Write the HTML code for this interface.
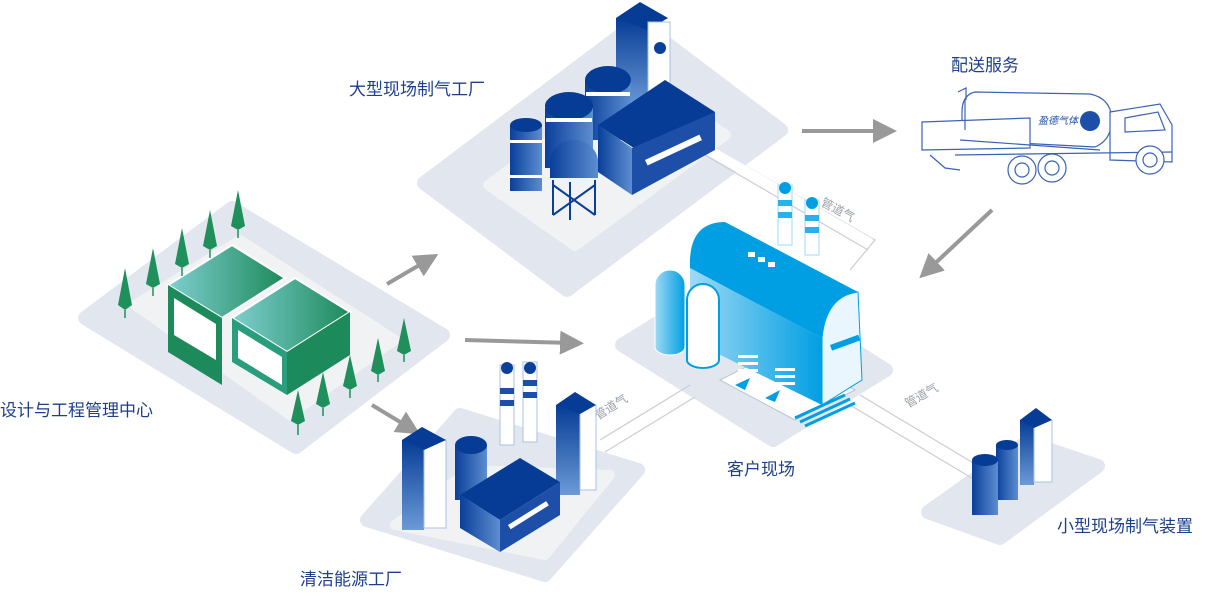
<!DOCTYPE html>
<html><head><meta charset="utf-8"><style>
html,body{margin:0;padding:0;background:#fff;width:1214px;height:600px;overflow:hidden}
svg{display:block}
.lbl{font-family:"Liberation Sans","Noto Sans CJK SC",sans-serif;font-size:17px;fill:#1d3f8c}
.pg{font-family:"Liberation Sans","Noto Sans CJK SC",sans-serif;font-size:12px;fill:#9aa0aa}
</style></head><body>
<svg width="1214" height="600" viewBox="0 0 1214 600" xmlns="http://www.w3.org/2000/svg">
<defs>
<linearGradient id="bl" x1="0" x2="1"><stop offset="0" stop-color="#0a3f9a"/><stop offset="1" stop-color="#5d8ed0"/></linearGradient>
<linearGradient id="bv" x1="0" y1="0" x2="0" y2="1"><stop offset="0" stop-color="#063c96"/><stop offset="1" stop-color="#6b9ad6"/></linearGradient>
<linearGradient id="gr" x1="0" x2="1"><stop offset="0" stop-color="#7fcfd0"/><stop offset="1" stop-color="#1c8a5a"/></linearGradient>
<linearGradient id="cy" x1="0" x2="1"><stop offset="0" stop-color="#9fd9f5"/><stop offset="1" stop-color="#009fe3"/></linearGradient>
<marker id="ah" markerWidth="6" markerHeight="6" refX="3" refY="3" orient="auto"><path d="M0,0 L6,3 L0,6 z" fill="#999"/></marker>
</defs>
<g fill="#e2e7ef" stroke="#e2e7ef" stroke-width="14" stroke-linejoin="round">
<polygon points="424,183 638,22 781,130 567,290"/>
<polygon points="85,318 232,208 443,335 296,447"/>
<polygon points="622,345 735,275 886,370 773,440"/>
<polygon points="367,520 460,415 638,470 545,575"/>
<polygon points="928,512 1027,442 1098,466 1000,538"/>
</g>
<g fill="#f1f2f3" stroke="#f1f2f3" stroke-width="10" stroke-linejoin="round">
<polygon points="488,185 639,74 726,135 575,246"/>
<polygon points="135,305 240,240 395,340 290,415"/>
<polygon points="395,525 470,470 610,475 545,555"/>
</g>
<g stroke="#c9ced6" stroke-width="1.2" fill="none">
<path d="M700,140 L875,240 L850,270"/><path d="M705,155 L868,250"/>
<path d="M600,440 L690,385"/><path d="M605,452 L695,397"/>
<path d="M860,395 L985,470"/><path d="M850,405 L975,480"/>
</g>
<path d="M700,145 L870,243" stroke="#fff" stroke-width="10"/>
<text class="pg" transform="translate(820,205) rotate(28)">管道气</text>
<text class="pg" transform="translate(598,420) rotate(-32)">管道气</text>
<text class="pg" transform="translate(908,408) rotate(-30)">管道气</text>
<g stroke="#999" stroke-width="4" marker-end="url(#ah)">
<line x1="802" y1="131" x2="885" y2="131"/>
<line x1="387" y1="284" x2="428" y2="260"/>
<line x1="465" y1="340" x2="572" y2="343"/>
<line x1="372" y1="405" x2="410" y2="428"/>
<line x1="992" y1="210" x2="928" y2="270"/>
</g>
<!-- top factory -->
<rect x="616" y="18" width="32" height="90" fill="url(#bv)"/><polygon points="616,18 640,2 668,18 648,30" fill="#063c96"/>
<rect x="648" y="22" width="22" height="86" fill="#fff" stroke="#a9c0e6"/>
<circle cx="660" cy="48" r="6" fill="#0a3f9a"/>
<rect x="585" y="80" width="46" height="60" fill="url(#bl)"/><ellipse cx="608" cy="80" rx="23" ry="14" fill="#063c96"/>
<rect x="545" y="108" width="48" height="60" fill="url(#bl)"/><ellipse cx="569" cy="106" rx="24" ry="14" fill="#063c96"/>
<rect x="546" y="118" width="46" height="4" fill="#fff"/><rect x="586" y="92" width="44" height="4" fill="#fff"/>
<rect x="510" y="125" width="32" height="66" fill="url(#bl)"/><ellipse cx="526" cy="125" rx="16" ry="7" fill="#063c96"/>
<rect x="510" y="140" width="32" height="3" fill="#fff"/><rect x="510" y="175" width="32" height="3" fill="#fff"/>
<path d="M550,162 a24,22 0 0 1 48,0 v16 h-48z" fill="url(#bl)"/>
<g stroke="#0a3f9a" stroke-width="2"><line x1="553" y1="180" x2="553" y2="215"/><line x1="595" y1="180" x2="595" y2="215"/><line x1="570" y1="182" x2="570" y2="220"/><line x1="553" y1="185" x2="595" y2="215"/><line x1="595" y1="185" x2="553" y2="215"/></g>
<polygon points="598,125 665,80 715,112 648,157" fill="#063c96"/>
<polygon points="598,125 632,148 632,195 598,172" fill="url(#bl)"/>
<polygon points="632,148 715,112 715,150 632,195" fill="#1d4fa8"/>
<rect x="645" y="160" width="60" height="6" fill="#fff" transform="rotate(-25 645 160)"/>
<!-- design center -->
<polygon points="168,285 232,245 285,278 222,318" fill="url(#gr)" stroke="#fff" stroke-width="2"/>
<polygon points="168,285 222,318 222,385 168,352" fill="#1c8a5a"/>
<polygon points="232,318 295,278 350,312 287,352" fill="url(#gr)" stroke="#fff" stroke-width="2"/>
<polygon points="232,318 287,352 287,395 232,362" fill="#2a9d7c"/>
<polygon points="287,352 350,312 350,355 287,395" fill="#1c8a5a"/>
<polygon points="238,330 282,357 282,385 238,358" fill="#fff"/>
<polygon points="174,298 216,324 216,360 174,335" fill="#fff"/>
<g fill="#1f8f5c">
<polygon points="125,310 118,305 125,268 132,305"/><polygon points="153,288 146,284 153,248 160,284"/>
<polygon points="182,268 175,264 182,228 189,264"/><polygon points="210,250 203,246 210,210 217,246"/>
<polygon points="238,230 231,226 238,190 245,226"/><polygon points="404,355 397,351 404,318 411,351"/>
<polygon points="378,375 371,371 378,338 385,371"/><polygon points="350,390 343,386 350,355 357,386"/>
<polygon points="323,408 316,404 323,372 330,404"/><polygon points="298,425 291,421 298,390 305,421"/>
</g>
<g stroke="#1f8f5c" stroke-width="1.5"><line x1="125" y1="310" x2="125" y2="318"/><line x1="153" y1="288" x2="153" y2="296"/><line x1="182" y1="268" x2="182" y2="276"/><line x1="210" y1="250" x2="210" y2="258"/><line x1="238" y1="230" x2="238" y2="238"/><line x1="404" y1="355" x2="404" y2="362"/><line x1="378" y1="375" x2="378" y2="382"/><line x1="350" y1="390" x2="350" y2="398"/><line x1="323" y1="408" x2="323" y2="416"/><line x1="298" y1="425" x2="298" y2="435"/></g>
<!-- customer site -->
<polygon points="720,380 795,420 855,390 780,350" fill="#fff" stroke="#b8c4d4"/>
<rect x="778" y="185" width="14" height="60" fill="#fff" stroke="#9fd9f5"/><circle cx="785" cy="188" r="6" fill="#009fe3"/>
<rect x="805" y="200" width="14" height="55" fill="#fff" stroke="#9fd9f5"/><circle cx="812" cy="203" r="6" fill="#009fe3"/>
<g fill="#2ab0ea"><rect x="778" y="200" width="14" height="6"/><rect x="778" y="212" width="14" height="6"/><rect x="805" y="215" width="14" height="6"/><rect x="805" y="227" width="14" height="6"/></g>
<polygon points="690,268 822,338 822,405 690,340" fill="url(#cy)"/>
<path d="M690,268 Q688,222 725,222 L858,292 Q826,296 822,338 z" fill="#009fe3"/>
<path d="M822,338 Q826,296 858,292 L862,380 L822,405 z" fill="#eaf6fd" stroke="#009fe3"/>
<rect x="830" y="345" width="30" height="6" fill="#009fe3" transform="rotate(-20 830 345)"/>
<g fill="#fff"><rect x="738" y="355" width="20" height="3"/><rect x="738" y="362" width="20" height="3"/><rect x="738" y="369" width="20" height="3"/><rect x="775" y="368" width="20" height="3"/><rect x="775" y="375" width="20" height="3"/><rect x="775" y="382" width="20" height="3"/></g>
<g fill="#fff"><rect x="748" y="252" width="7" height="5"/><rect x="758" y="257" width="7" height="5"/><rect x="768" y="262" width="7" height="5"/></g>
<path d="M655,285 a15,15 0 0 1 30,0 v62 a15,8 0 0 1 -30,0z" fill="url(#cy)" stroke="#fff"/>
<path d="M687,300 a16,16 0 0 1 32,0 v60 a16,8 0 0 1 -32,0z" fill="#fff" stroke="#009fe3" stroke-width="2"/>
<g fill="#009fe3"><polygon points="735,385 750,378 745,390"/><polygon points="765,398 780,390 775,402"/></g>
<g stroke="#009fe3" stroke-width="3"><line x1="795" y1="418" x2="845" y2="395"/><line x1="800" y1="422" x2="850" y2="399"/><line x1="805" y1="426" x2="855" y2="403"/></g>
<!-- clean energy -->
<rect x="500" y="365" width="14" height="80" fill="#fff" stroke="#a9c0e6"/><circle cx="507" cy="368" r="6" fill="#0a3f9a"/>
<rect x="523" y="362" width="14" height="80" fill="#fff" stroke="#a9c0e6"/><circle cx="530" cy="368" r="6" fill="#0a3f9a"/>
<g fill="#1d4fa8"><rect x="500" y="388" width="14" height="6"/><rect x="500" y="400" width="14" height="6"/><rect x="523" y="380" width="14" height="6"/><rect x="523" y="392" width="14" height="6"/></g>
<rect x="556" y="405" width="24" height="90" fill="url(#bv)"/><rect x="580" y="405" width="16" height="85" fill="#fff" stroke="#a9c0e6"/><polygon points="556,405 575,392 596,405 580,414" fill="#063c96"/>
<rect x="455" y="445" width="32" height="55" fill="url(#bl)"/><ellipse cx="471" cy="445" rx="16" ry="9" fill="#063c96"/>
<rect x="402" y="440" width="22" height="90" fill="url(#bv)"/><rect x="424" y="440" width="22" height="88" fill="#fff" stroke="#a9c0e6"/><polygon points="402,440 422,427 446,440 424,450" fill="#063c96"/>
<polygon points="460,495 520,458 560,482 500,520" fill="#063c96"/>
<polygon points="460,495 500,520 500,552 460,528" fill="url(#bl)"/>
<polygon points="500,520 560,482 560,515 500,552" fill="#1d4fa8"/>
<rect x="508" y="525" width="45" height="5" fill="#fff" transform="rotate(-32 508 525)"/>
<!-- small plant -->
<rect x="1020" y="420" width="14" height="65" fill="url(#bv)"/><rect x="1034" y="420" width="18" height="62" fill="#fff" stroke="#a9c0e6"/><polygon points="1020,420 1036,408 1052,420 1034,428" fill="#063c96"/>
<rect x="996" y="445" width="22" height="55" fill="url(#bl)"/><ellipse cx="1007" cy="445" rx="11" ry="5" fill="#063c96"/>
<rect x="972" y="460" width="26" height="55" fill="url(#bl)"/><ellipse cx="985" cy="460" rx="13" ry="6" fill="#063c96"/>
<!-- truck -->
<g fill="none" stroke="#3a63b5" stroke-width="1.2">
<path d="M975,92 Q962,95 962,112 L962,140 L1095,147 Q1112,140 1112,118 Q1110,98 1090,94z" fill="#fff"/>
<path d="M922,122 L1030,118 L1030,148 L922,150z" fill="#fff"/>
<path d="M1110,112 L1160,104 L1172,125 L1172,162 L1110,160z" fill="#fff"/>
<path d="M1125,118 L1158,112 L1165,130 L1125,132z"/>
<path d="M955,155 L1172,152"/><path d="M960,140 L1100,150"/>
<circle cx="1022" cy="170" r="14" fill="#fff"/><circle cx="1052" cy="168" r="14" fill="#fff"/><circle cx="1150" cy="160" r="14" fill="#fff"/>
<circle cx="1022" cy="170" r="7"/><circle cx="1052" cy="168" r="7"/><circle cx="1150" cy="160" r="7"/>
<path d="M930,155 L945,168 L960,170"/><path d="M965,100 L965,130"/><path d="M958,92 L966,88 L966,100"/>
</g>
<text x="1038" y="124" font-family="Liberation Sans,Noto Sans CJK SC,sans-serif" font-size="10" font-style="italic" fill="#1d4fa8">盈德气体</text>
<circle cx="1090" cy="121" r="10" fill="#1d4fa8"/>
<text class="lbl" x="349" y="95">大型现场制气工厂</text>
<text class="lbl" x="951" y="71">配送服务</text>
<text class="lbl" x="0" y="416">设计与工程管理中心</text>
<text class="lbl" x="727" y="475">客户现场</text>
<text class="lbl" x="300" y="585">清洁能源工厂</text>
<text class="lbl" x="1057" y="532">小型现场制气装置</text>
</svg>
</body></html>
